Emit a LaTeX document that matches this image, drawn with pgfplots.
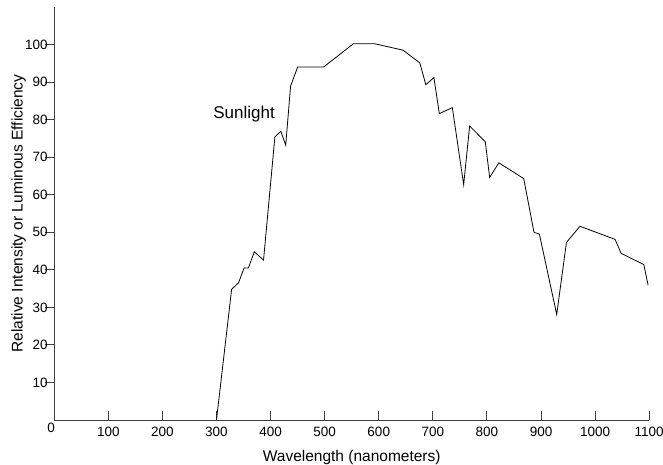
\documentclass[border=0pt]{standalone}
\usepackage{fontspec}
\setmainfont{Liberation Sans}
\usepackage{pgfplots}
\pgfplotsset{compat=1.18}

\begin{document}
\begin{tikzpicture}
\begin{axis}[
  at={(0,0)}, anchor=south west,
  scale only axis, width=595pt, height=413pt,
  xmin=0, xmax=1100, ymin=0, ymax=110,
  axis lines*=left,
  axis line style={black!75, line width=0.9pt},
  xtick={100,200,...,1100},
  ytick={10,20,...,100},
  tick align=outside,
  major tick length=9pt,
  x tick style={black!75, line width=0.9pt, yshift=9pt},
  y tick style={black!75, line width=0.9pt},
  tick label style={font=\fontsize{13.5}{15}\selectfont},
  /pgf/number format/assume math mode=true,
  /pgf/number format/1000 sep={},
  xticklabel style={yshift=5pt},
  yticklabel style={xshift=6pt},
  xlabel={Wavelength (nanometers)},
  ylabel={Relative Intensity or Luminous Efficiency},
  label style={font=\fontsize{15.5}{17}\selectfont},
  xlabel style={yshift=-6pt},
  ylabel style={yshift=-7.5pt},
  clip=false,
]
\addplot[black, line width=0.8pt] coordinates {
  (300,0) (328,34.8) (341,36.6) (351,40.5) (359,40.5) (370,44.8) (387,42.6)
  (408,75.4) (419,76.9) (428,73.2) (437,88.9) (450,94) (498,94)
  (553,100.2) (593,100.2) (645,98.5) (676,95.1) (687,89.3) (702,91.2)
  (712,81.6) (736,83.2) (757,62.7) (768,78.3) (797,74.1) (805,64.6)
  (822,68.5) (868,64.3) (887,50) (897,49.5) (929,28.1) (947,47.3)
  (972,51.6) (1037,48.1) (1048,44.4) (1090,41.4) (1098,35.9)
};
\node[font=\fontsize{17}{19}\selectfont] at (axis cs:351,81.5) {Sunlight};
\node[font=\fontsize{13.5}{15}\selectfont] at ([shift={(-3pt,-7.5pt)}]axis cs:0,0) {0};
\end{axis}
\pgfresetboundingbox
\path (-54.2pt,-44pt) rectangle (608.8pt,420pt);
\end{tikzpicture}
\end{document}
